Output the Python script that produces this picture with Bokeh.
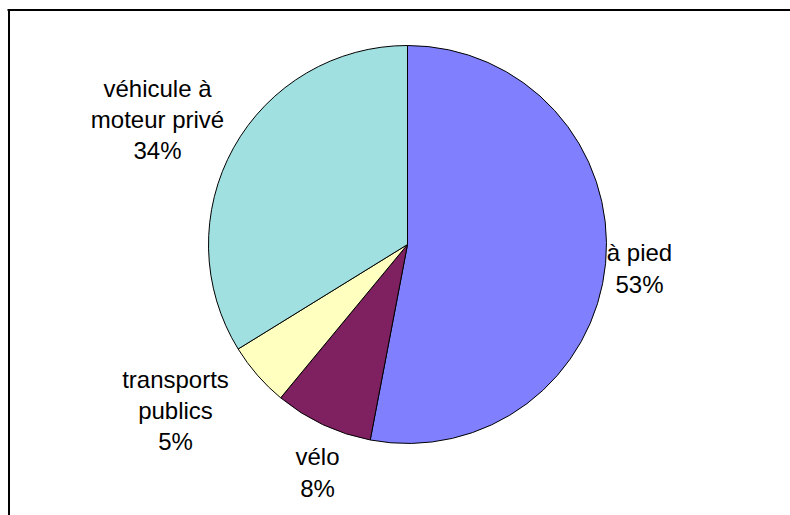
import numpy as np
from bokeh.plotting import figure
from bokeh.models import Range1d, ColumnDataSource
from bokeh.core.properties import value
from bokeh.embed import file_html
from bokeh.resources import INLINE

# ---- data ----
categories = ["à pied", "vélo", "transports publics", "véhicule à moteur privé"]
label_texts = ["à pied", "vélo", "transports\npublics", "véhicule à\nmoteur privé"]
shares = [53.0, 8.0, 5.2, 33.8]
colors = ["#8080FF", "#7F2060", "#FFFFC0", "#A0E0E0"]

# ---- layout (pixel space, y measured upward from bottom) ----
W, H = 790, 515
cx, cy, r = 407, 515 - 244, 199
label_pos = [(639, 515 - 268), (317, 515 - 472), (175, 515 - 410), (157, 515 - 119)]

vals = np.array(shares, dtype=float)
frac = vals / vals.sum()
ends_cum = np.cumsum(frac)
starts_cum = ends_cum - frac
# clockwise from top
start_ang = np.pi / 2 - ends_cum * 2 * np.pi
end_ang = np.pi / 2 - starts_cum * 2 * np.pi

src = ColumnDataSource(dict(x=[cx] * len(vals), y=[cy] * len(vals),
                            start=list(start_ang), end=list(end_ang),
                            color=colors, cat=categories))

p = figure(width=W, height=H, output_backend="svg", toolbar_location=None,
           x_range=Range1d(0, W), y_range=Range1d(0, H),
           min_border=0, min_border_left=0, min_border_right=0,
           min_border_top=0, min_border_bottom=0)
p.axis.visible = False
p.grid.visible = False
p.outline_line_color = None
p.background_fill_color = "white"
p.border_fill_color = "white"

p.wedge(x="x", y="y", radius=r, start_angle="start", end_angle="end",
        fill_color="color", line_color="black", line_width=1, source=src)

# frame (partially visible)
p.segment(x0=[7, 8.5], y0=[H - 9.5, H - 9.5], x1=[W, 8.5], y1=[H - 9.5, 0],
          line_color="black", line_width=2)

pct = [f"{int(round(v))}%" for v in frac * 100]
lab = [f"{t}\n{q}" for t, q in zip(label_texts, pct)]
lsrc = ColumnDataSource(dict(x=[a for a, b in label_pos], y=[b for a, b in label_pos], t=lab))
p.text(x="x", y="y", text="t", source=lsrc, text_font=value("Liberation Sans"),
       text_font_size="24px", text_align="center", text_baseline="middle",
       text_color="black", text_line_height=1.15)

open("out.html", "w").write(file_html(p, INLINE))
